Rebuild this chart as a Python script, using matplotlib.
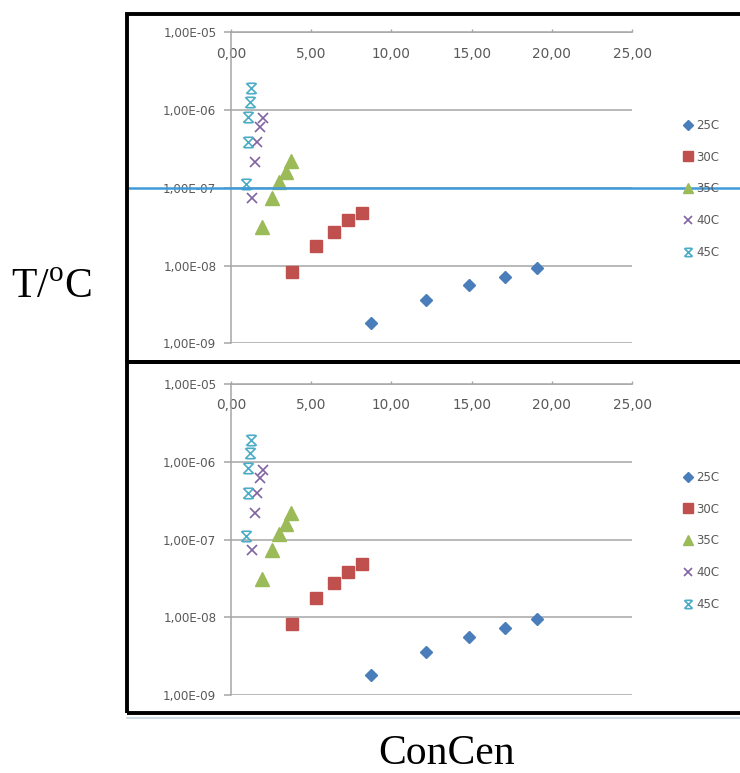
import matplotlib.pyplot as plt
import numpy as np
from matplotlib.patches import Rectangle
from matplotlib.path import Path
from matplotlib.lines import Line2D
from matplotlib.ticker import FuncFormatter

plt.rcParams['mathtext.fontset'] = 'custom'
plt.rcParams['mathtext.rm'] = 'Liberation Serif'

# data (both panels show the same series)
series_labels = ['25C', '30C', '35C', '40C', '45C']
x_25 = [8.73, 12.16, 14.84, 17.08, 19.08]
y_25 = [1.80e-9, 3.56e-9, 5.55e-9, 7.2e-9, 9.4e-9]
x_30 = [3.82, 5.30, 6.42, 7.31, 8.15]
y_30 = [8.2e-9, 1.79e-8, 2.73e-8, 3.85e-8, 4.79e-8]
x_35 = [1.92, 2.58, 3.02, 3.42, 3.73]
y_35 = [3.1e-8, 7.3e-8, 1.18e-7, 1.58e-7, 2.2e-7]
x_40 = [1.29, 1.50, 1.64, 1.81, 1.98]
y_40 = [7.3e-8, 2.17e-7, 3.93e-7, 6.1e-7, 7.8e-7]
x_45 = [0.92, 1.04, 1.08, 1.19, 1.25]
y_45 = [1.12e-7, 3.93e-7, 8.2e-7, 1.28e-6, 1.9e-6]

x_ticks = [0, 5, 10, 15, 20, 25]
y_ticks = [1e-9, 1e-8, 1e-7, 1e-6, 1e-5]
ref_level = 1e-7

W, H = 740, 773

# x marker with bars top and bottom, used by the 45C series
star = Path([(-1, -1), (1, 1), (-1, 1), (1, -1), (-0.8, 1), (0.8, 1), (-0.8, -1), (0.8, -1)],
            [Path.MOVETO, Path.LINETO, Path.MOVETO, Path.LINETO,
             Path.MOVETO, Path.LINETO, Path.MOVETO, Path.LINETO])

styles = [
    dict(marker='D', ms=6.4, color='#4a7ebb', mec='#4a7ebb'),
    dict(marker='s', ms=8.8, color='#c0504d', mec='#c0504d'),
    dict(marker='^', ms=9.4, color='#9bbb59', mec='#9bbb59'),
    dict(marker='x', ms=7.5, color='#8064a2', mew=1.2),
    dict(marker=star, ms=7.5, color='#4bacc6', mew=1.2),
]
grid_col = '#a6a6a6'
text_col = '#595959'


def frac(px, py):
    return px / W, 1 - py / H


def make_panel(top_px, bot_px, legend_center_px, with_line):
    left = 231 / W
    width = (632 - 231) / W
    ax = fig.add_axes([left, 1 - bot_px / H, width, (bot_px - top_px) / H])
    ax.set_yscale('log')
    ax.set_xlim(0, 25)
    ax.set_ylim(1e-9, 1e-5)
    for xs, ys, lab, st in zip([x_25, x_30, x_35, x_40, x_45],
                               [y_25, y_30, y_35, y_40, y_45], series_labels, styles):
        ax.plot(xs, ys, linestyle='none', label=lab, clip_on=False, **st)
    ax.set_yticks(y_ticks)
    ax.yaxis.set_minor_locator(plt.NullLocator())
    ax.yaxis.set_major_formatter(FuncFormatter(lambda v, p: f'{v:.2E}'.replace('.', ',')))
    ax.set_xticks(x_ticks)
    ax.xaxis.set_major_formatter(FuncFormatter(lambda v, p: f'{v:.2f}'.replace('.', ',')))
    ax.grid(axis='y', color=grid_col, lw=1.1)
    ax.set_axisbelow(True)
    for s in ['right', 'bottom']:
        ax.spines[s].set_visible(False)
    for s in ['left', 'top']:
        ax.spines[s].set_color(grid_col)
        ax.spines[s].set_linewidth(1.1)
    ax.tick_params(axis='y', direction='out', length=5, width=1.1, color=grid_col,
                   labelsize=8.6, labelcolor=text_col, pad=5.5)
    ax.tick_params(axis='x', bottom=False, labelbottom=False, top=True, labeltop=True,
                   direction='out', length=2, width=1, color=grid_col,
                   labelsize=9.8, labelcolor=text_col, pad=-22.5)
    lx, ly = frac(*legend_center_px)
    ax.legend(loc='center left', bbox_to_anchor=(lx, ly), bbox_transform=fig.transFigure,
              frameon=False, fontsize=8.5, labelcolor=text_col, handlelength=0.9,
              handletextpad=0.25, labelspacing=1.6, borderpad=0, markerscale=0.8)
    if with_line:
        ax.axhline(ref_level, xmin=(127 - 231) / 401, xmax=(745 - 231) / 401,
                   color='#3f9bd8', lw=1.8, clip_on=False, zorder=5)
    return ax


fig = plt.figure(figsize=(W / 100, H / 100), dpi=100)

ax1 = make_panel(32.2, 343.3, (677, 189), True)
ax2 = make_panel(384, 695, (677, 541), False)

# black frames around each panel
for y0, y1 in [(14, 362), (362, 713)]:
    fig.add_artist(Rectangle(frac(127, y1), (760 - 127) / W, (y1 - y0) / H,
                             transform=fig.transFigure, fill=False,
                             edgecolor='black', lw=2.8, zorder=10))
fig.add_artist(Line2D([127 / W, 1], [1 - 718 / H] * 2, transform=fig.transFigure,
                      color='#c5d6e4', lw=1.2))

fig.text(51 / W, 1 - 288 / H, r'T/$^\mathregular{o}$C', family='Liberation Serif',
         fontsize=30, ha='center', va='center')
fig.text(447 / W, 1 - 754 / H, 'ConCen', family='Liberation Serif',
         fontsize=30, ha='center', va='center')

fig.savefig('out.png', dpi=100)
